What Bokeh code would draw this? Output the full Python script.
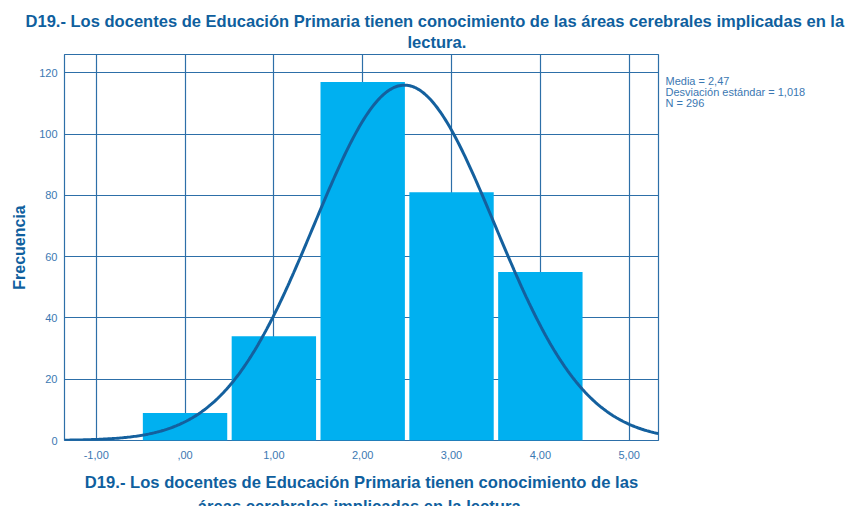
import numpy as np
from bokeh.plotting import figure
from bokeh.models import FixedTicker, Range1d, Title, LinearAxis
from bokeh.embed import file_html
from bokeh.resources import INLINE

# ---- data ----
categories = [0, 1, 2, 3, 4]
frequencies = [9, 34, 117, 81, 55]
x_ticks = [-1, 0, 1, 2, 3, 4, 5]
x_tick_labels = ["-1,00", ",00", "1,00", "2,00", "3,00", "4,00", "5,00"]
y_ticks = [0, 20, 40, 60, 80, 100, 120]
y_tick_labels = ["0", "20", "40", "60", "80", "100", "120"]
mean_val = 2.47
sd_val = 1.018
n_val = 296
title_lines = ["D19.- Los docentes de Educación Primaria tienen conocimiento de las áreas cerebrales implicadas en la",
               "lectura."]
x_title_lines = ["D19.- Los docentes de Educación Primaria tienen conocimiento de las",
                 "áreas cerebrales implicadas en la lectura."]
stats_lines = ["Media = 2,47", "Desviación estándar = 1,018", "N = 296"]

FONT = "Liberation Sans"
DARK = "#0f5f9e"
TICKC = "#3b78b2"
GRIDC = "#2d6fa8"
BARC = "#00b0f0"
CURVEC = "#14609e"

p = figure(frame_width=594, frame_height=386, output_backend="svg", toolbar_location=None,
           x_range=Range1d(-1.357, 5.33), y_range=Range1d(0, 126),
           min_border_left=64, min_border_right=192, min_border_top=54,
           min_border_bottom=65)

p.outline_line_color = GRIDC
p.outline_line_width = 1.2
p.xgrid.grid_line_color = GRIDC
p.ygrid.grid_line_color = GRIDC
p.xgrid.grid_line_width = 1.2
p.ygrid.grid_line_width = 1.2

p.vbar(x=categories, top=frequencies, width=0.95, fill_color=BARC,
       line_color=None)

xs = np.linspace(-1.357, 5.33, 400)
ys = n_val * 1.0 / (sd_val * np.sqrt(2 * np.pi)) * np.exp(-0.5 * ((xs - mean_val) / sd_val) ** 2)
p.line(xs, ys, line_color=CURVEC, line_width=3)

p.xaxis.ticker = FixedTicker(ticks=x_ticks)
p.xaxis.major_label_overrides = {t: l for t, l in zip(x_ticks, x_tick_labels)}
p.yaxis.ticker = FixedTicker(ticks=y_ticks)
p.yaxis.major_label_overrides = {t: l for t, l in zip(y_ticks, y_tick_labels)}

# statistics text, drawn as labels of an extra right-hand axis
stat_pos = [117.4, 113.8, 110.2]
rax = LinearAxis(ticker=FixedTicker(ticks=stat_pos),
                 major_label_overrides={t: s for t, s in zip(stat_pos, stats_lines)})
p.add_layout(rax, "right")

for ax in (p.xaxis[0], p.yaxis[0], rax):
    ax.axis_line_color = None
    ax.major_tick_line_color = None
    ax.minor_tick_line_color = None
    ax.major_tick_out = 0
    ax.major_tick_in = 0
    ax.major_label_text_color = TICKC
    ax.major_label_text_font = FONT
    ax.major_label_text_font_size = "11px"
p.xaxis.major_label_standoff = 10
p.yaxis[0].major_label_standoff = 7
rax.major_label_standoff = 7

p.yaxis[0].axis_label = "Frecuencia"
p.yaxis[0].axis_label_text_font = FONT
p.yaxis[0].axis_label_text_font_size = "16px"
p.yaxis[0].axis_label_text_font_style = "bold"
p.yaxis[0].axis_label_text_color = DARK
p.yaxis[0].axis_label_standoff = 8

def style_title(t, size):
    t.text_font = FONT
    t.text_font_size = size
    t.text_font_style = "bold"
    t.text_color = DARK
    t.text_line_height = 0.9

# main title: p.title is the outer (first) line, the added one sits next to the frame
p.title.text = title_lines[0]
p.title.align = "left"
p.title.offset = -39
p.title.standoff = -5
style_title(p.title, "16.55px")
t2 = Title(text=title_lines[1], align="left", offset=343, standoff=5)
style_title(t2, "16.55px")
p.add_layout(t2, "above")

# x-axis title, two lines
xt1 = Title(text=x_title_lines[0], align="center", standoff=18)
style_title(xt1, "16.6px")
p.add_layout(xt1, "below")
xt2 = Title(text=x_title_lines[1], align="center", standoff=-12)
style_title(xt2, "16.6px")
p.add_layout(xt2, "below")

open("out.html", "w").write(file_html(p, INLINE))
